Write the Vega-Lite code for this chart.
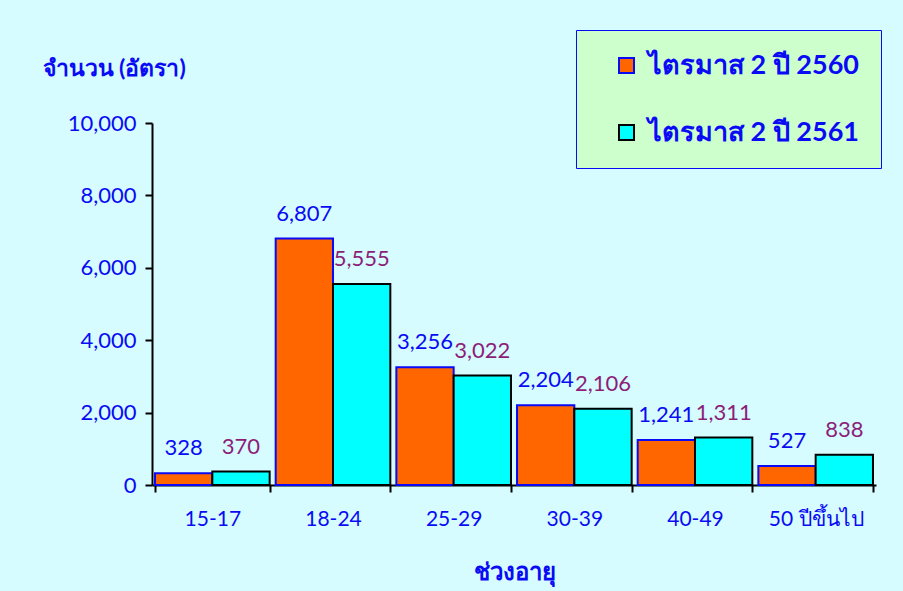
{
  "$schema": "https://vega.github.io/schema/vega-lite/v6.json",
  "width": 724,
  "height": 362,
  "autosize": {"type": "none"},
  "padding": {"left": 152, "top": 123, "right": 27, "bottom": 106},
  "background": "#D6FCFF",
  "config": {
    "view": {"stroke": null},
    "font": "Lato"
  },
  "data": {
    "values": [
      {"age": "15-17", "series": "ไตรมาส 2 ปี 2560", "value": 328},
      {"age": "15-17", "series": "ไตรมาส 2 ปี 2561", "value": 370},
      {"age": "18-24", "series": "ไตรมาส 2 ปี 2560", "value": 6807},
      {"age": "18-24", "series": "ไตรมาส 2 ปี 2561", "value": 5555},
      {"age": "25-29", "series": "ไตรมาส 2 ปี 2560", "value": 3256},
      {"age": "25-29", "series": "ไตรมาส 2 ปี 2561", "value": 3022},
      {"age": "30-39", "series": "ไตรมาส 2 ปี 2560", "value": 2204},
      {"age": "30-39", "series": "ไตรมาส 2 ปี 2561", "value": 2106},
      {"age": "40-49", "series": "ไตรมาส 2 ปี 2560", "value": 1241},
      {"age": "40-49", "series": "ไตรมาส 2 ปี 2561", "value": 1311},
      {"age": "50 ปีขึ้นไป", "series": "ไตรมาส 2 ปี 2560", "value": 527},
      {"age": "50 ปีขึ้นไป", "series": "ไตรมาส 2 ปี 2561", "value": 838}
    ]
  },
  "encoding": {
    "x": {
      "field": "age",
      "type": "nominal",
      "sort": null,
      "scale": {"paddingInner": 0.05, "paddingOuter": 0.025},
      "axis": {
        "title": "ช่วงอายุ",
        "labelAngle": 0,
        "labelFont": "Lato",
        "labelFontSize": 21,
        "labelColor": "#0A0AF5",
        "labelPadding": 16,
        "domainColor": "black",
        "domainWidth": 2,
        "tickColor": "black",
        "tickWidth": 2,
        "tickSize": 7,
        "tickBand": "extent",
        "titleFont": "Lato",
        "titleFontSize": 24,
        "titleFontWeight": "bold",
        "titleColor": "#0A0AF5",
        "titleY": 87,
        "titleBaseline": "middle"
      }
    },
    "xOffset": {"field": "series", "type": "nominal", "scale": {"paddingInner": 0, "paddingOuter": 0}},
    "y": {
      "field": "value",
      "type": "quantitative",
      "scale": {"domain": [0, 10000], "nice": false},
      "axis": {
        "values": [0, 2000, 4000, 6000, 8000, 10000],
        "format": ",.0f",
        "grid": false,
        "title": "จำนวน (อัตรา)",
        "titleAngle": 0,
        "titleAlign": "left",
        "titleBaseline": "middle",
        "titleX": -110,
        "titleY": -55,
        "titleFont": "Lato",
        "titleFontSize": 23,
        "titleFontWeight": "bold",
        "titleColor": "#0A0AF5",
        "labelFont": "Lato",
        "labelFontSize": 22,
        "labelColor": "#0A0AF5",
        "labelPadding": 9,
        "domainColor": "black",
        "domainWidth": 2,
        "tickColor": "black",
        "tickWidth": 2,
        "tickSize": 7
      }
    }
  },
  "layer": [
    {
      "mark": {"type": "bar", "strokeWidth": 2},
      "encoding": {
        "color": {
          "field": "series",
          "type": "nominal",
          "scale": {"range": ["#FF6600", "#00FFFF"]},
          "legend": {
            "title": null,
            "orient": "none",
            "legendX": 424,
            "legendY": -93,
            "direction": "vertical",
            "fillColor": "#CCFFCC",
            "strokeColor": "#0A0AF5",
            "padding": 22,
            "rowPadding": 39,
            "symbolType": "square",
            "symbolSize": 225,
            "symbolStrokeWidth": 2,
            "symbolOffset": 15,
            "labelOffset": 8,
            "labelFont": "Lato",
            "labelFontSize": 27,
            "labelFontWeight": "bold",
            "labelColor": "#0A0AF5",
            "labelLimit": 400
          }
        },
        "stroke": {
          "field": "series",
          "type": "nominal",
          "scale": {"range": ["#0A0AF5", "#000000"]},
          "legend": {
            "title": null,
            "orient": "none",
            "legendX": 424,
            "legendY": -93,
            "direction": "vertical",
            "fillColor": "#CCFFCC",
            "strokeColor": "#0A0AF5",
            "padding": 22,
            "rowPadding": 39,
            "symbolType": "square",
            "symbolSize": 225,
            "symbolStrokeWidth": 2,
            "symbolOffset": 15,
            "labelOffset": 8,
            "labelFont": "Lato",
            "labelFontSize": 27,
            "labelFontWeight": "bold",
            "labelColor": "#0A0AF5",
            "labelLimit": 400
          }
        }
      }
    },
    {
      "mark": {"type": "text", "baseline": "bottom", "dy": -13, "font": "Lato", "fontSize": 22},
      "encoding": {
        "text": {"field": "value", "type": "quantitative", "format": ","},
        "color": {
          "condition": {"test": "datum.series === 'ไตรมาส 2 ปี 2560'", "value": "#0A0AF5"},
          "value": "#8C1E78"
        }
      }
    }
  ]
}
